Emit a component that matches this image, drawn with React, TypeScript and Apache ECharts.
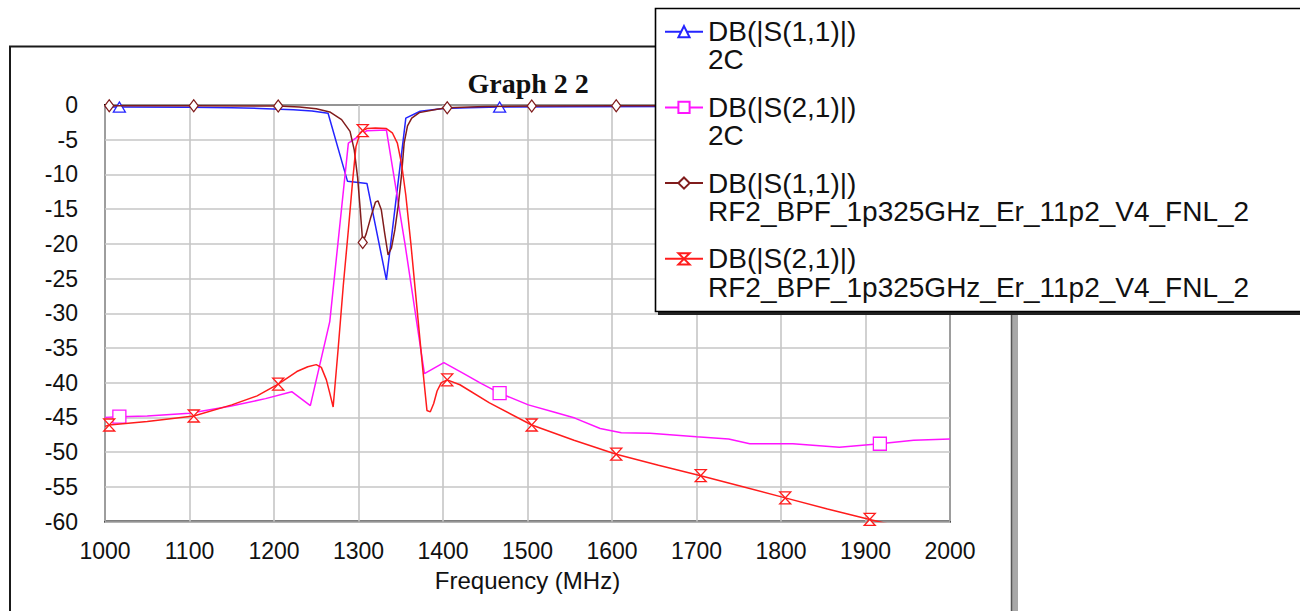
import React, { useEffect, useRef } from "react";
import * as echarts from "echarts";

// ---- data ----
const measurementNames = ["DB(|S(1,1)|)", "DB(|S(2,1)|)", "DB(|S(1,1)|)", "DB(|S(2,1)|)"];
const designNames = ["2C", "2C", "RF2_BPF_1p325GHz_Er_11p2_V4_FNL_2", "RF2_BPF_1p325GHz_Er_11p2_V4_FNL_2"];

const xTicksMin = 1000;
const xTicksMax = 2000;
const yTicksMin = -60;
const yTicksMax = 0;

// S11 of "2C" (blue)
const s11_2c: [number, number][] = [
  [1000, -0.3], [1017, -0.3], [1100, -0.32], [1150, -0.38], [1183, -0.5], [1223, -0.7],
  [1245, -0.85], [1264, -1.2], [1287, -11.0], [1310, -11.3], [1333, -25.2], [1356, -1.9],
  [1373, -0.9], [1400, -0.5], [1430, -0.38], [1467, -0.3], [1550, -0.25], [1700, -0.22],
  [1917, -0.2], [2000, -0.2],
];
const s11_2c_markers = [1017, 1467, 1917];

// S21 of "2C" (magenta)
const s21_2c: [number, number][] = [
  [1000, -45.0], [1017, -44.9], [1050, -44.8], [1100, -44.4], [1148, -43.4], [1190, -42.3],
  [1221, -41.3], [1243, -43.3], [1266, -31.2], [1288, -5.5], [1310, -3.7], [1333, -3.6],
  [1355, -20.0], [1378, -38.7], [1401, -37.1], [1423, -38.6], [1445, -40.1], [1467, -41.5],
  [1501, -43.2], [1530, -44.2], [1556, -45.1], [1586, -46.6], [1611, -47.2], [1645, -47.3],
  [1700, -47.8], [1738, -48.1], [1763, -48.8], [1814, -48.8], [1869, -49.3], [1917, -48.8],
  [1957, -48.3], [2000, -48.1],
];
const s21_2c_markers = [1017, 1467, 1917];

// S11 of RF2_BPF (brown)
const s11_rf2: [number, number][] = [
  [1000, -0.1], [1005, -0.1], [1105, -0.1], [1205, -0.15], [1230, -0.3], [1250, -0.55],
  [1266, -1.0], [1280, -2.1], [1290, -3.8], [1295, -6.5], [1299, -10.5], [1302, -15.0],
  [1305, -19.8], [1309, -18.6], [1314, -16.4], [1320, -14.0], [1323, -13.8], [1327, -15.1],
  [1331, -18.5], [1335, -21.6], [1339, -20.6], [1343, -18.0], [1347, -14.5], [1351, -10.0],
  [1354, -5.5], [1358, -3.0], [1363, -1.9], [1372, -1.1], [1393, -0.6], [1405, -0.4],
  [1450, -0.2], [1505, -0.15], [1605, -0.1], [1705, -0.1], [1805, -0.1], [1905, -0.1],
  [2000, -0.1],
];
const s11_rf2_markers = [1005, 1105, 1205, 1305, 1405, 1505, 1605, 1705, 1805, 1905];

// S21 of RF2_BPF (red)
const s21_rf2: [number, number][] = [
  [1000, -46.3], [1005, -46.1], [1050, -45.6], [1105, -44.8], [1150, -43.2], [1180, -41.9],
  [1205, -40.2], [1227, -38.4], [1240, -37.7], [1250, -37.4], [1256, -37.8], [1262, -39.6],
  [1266, -41.5], [1270, -43.5], [1276, -35.0], [1282, -26.0], [1288, -18.0], [1293, -11.0],
  [1297, -6.0], [1302, -4.0], [1305, -3.7], [1310, -3.4], [1320, -3.3], [1333, -3.4],
  [1340, -4.0], [1346, -5.5], [1351, -8.5], [1356, -13.0], [1362, -20.0], [1369, -29.0],
  [1376, -38.0], [1381, -44.0], [1385, -44.2], [1389, -43.0], [1393, -41.2], [1398, -40.0],
  [1405, -39.6], [1420, -40.3], [1455, -42.9], [1505, -46.1], [1555, -48.3], [1605, -50.3],
  [1655, -51.9], [1705, -53.4], [1755, -55.0], [1805, -56.6], [1855, -58.2], [1905, -59.7],
  [1955, -61.2], [2000, -62.6],
];
const s21_rf2_markers = [1005, 1105, 1205, 1305, 1405, 1505, 1605, 1705, 1805, 1905];

const seriesColors = ["#2424ff", "#ff14ff", "#801c1c", "#ff1c1c"];
const hourglass = "path://M0,0L10,0L0,10L10,10Z";

function withMarkers(points: [number, number][], markers: number[]) {
  return points.map(([f, d]) =>
    markers.indexOf(f) >= 0 ? { value: [f, d] } : { value: [f, d], symbol: "none" }
  );
}

export default function App() {
  const ref = useRef<HTMLDivElement>(null);

  useEffect(() => {
    if (!ref.current) return;
    const chart = echarts.init(ref.current, undefined, { renderer: "svg" });
    const names = measurementNames.map((m, i) => m + "\n" + designNames[i]);
    const lineH = 28.3;

    const mk = (
      i: number,
      pts: [number, number][],
      markers: number[],
      symbol: string,
      size: number | number[]
    ) => ({
      name: names[i],
      type: "line",
      data: withMarkers(pts, markers),
      symbol,
      symbolSize: size,
      showSymbol: true,
      showAllSymbol: true,
      lineStyle: { color: seriesColors[i], width: 1.5 },
      itemStyle: { color: "#ffffff", borderColor: seriesColors[i], borderWidth: 1.3 },
      emphasis: { disabled: true },
      z: 2 + i * 0.01,
    });

    chart.setOption({
      animation: false,
      backgroundColor: "#ffffff",
      title: {
        text: "Graph 2 2",
        left: 467.5,
        top: 69.5,
        padding: 0,
        textStyle: {
          fontFamily: "Liberation Serif",
          fontWeight: "bold",
          fontSize: 28,
          color: "#111111",
        },
      },
      grid: {
        left: 105,
        right: 350,
        top: 105,
        bottom: 89.5,
        show: true,
        borderColor: "#000000",
        borderWidth: 2,
        backgroundColor: "#ffffff",
      },
      xAxis: {
        type: "value",
        min: xTicksMin,
        max: xTicksMax,
        interval: 100,
        name: "Frequency (MHz)",
        nameLocation: "middle",
        nameGap: 47,
        nameTextStyle: { fontFamily: "Liberation Sans", fontSize: 24, color: "#111111" },
        axisLine: { show: false },
        axisTick: { show: false },
        axisLabel: {
          fontFamily: "Liberation Sans",
          fontSize: 23,
          color: "#111111",
          margin: 18,
          formatter: (v: number) => String(v),
        },
        splitLine: { show: true, lineStyle: { color: "#c6c6c6", width: 1.6 } },
      },
      yAxis: {
        type: "value",
        min: yTicksMin,
        max: yTicksMax,
        interval: 5,
        axisLine: { show: false },
        axisTick: { show: false },
        axisLabel: {
          fontFamily: "Liberation Sans",
          fontSize: 23,
          color: "#111111",
          margin: 27,
          formatter: (v: number) => String(v),
        },
        splitLine: { show: true, lineStyle: { color: "#c6c6c6", width: 1.6 } },
      },
      legend: {
        orient: "vertical",
        left: 664,
        top: 31.7 - 1.5 * lineH,
        padding: 0,
        itemGap: 75.7 - 3 * lineH,
        itemWidth: 38,
        itemHeight: 14,
        selectedMode: false,
        data: names,
        formatter: (name: string) => "\n" + name,
        textStyle: {
          fontFamily: "Liberation Sans",
          fontSize: 28,
          color: "#111111",
          lineHeight: lineH,
        },
      },
      graphic: [
        {
          type: "polyline",
          shape: { points: [[10, 640], [10, 46.5], [1012, 46.5]] },
          style: { stroke: "#1a1a1a", lineWidth: 2, fill: null },
          z: 0,
        },
        {
          type: "rect",
          shape: { x: 1011, y: 46, width: 7, height: 600 },
          style: { fill: "#a8a8a8", stroke: null },
          z: 0,
        },
        {
          type: "line",
          shape: { x1: 1011.5, y1: 46, x2: 1011.5, y2: 640 },
          style: { stroke: "#555555", lineWidth: 1.5 },
          z: 0,
        },
        {
          type: "rect",
          shape: { x: 658, y: 11, width: 700, height: 304 },
          style: { fill: "#222222", stroke: null },
          z: 3,
        },
        {
          type: "rect",
          shape: { x: 655.5, y: 8.5, width: 700, height: 303 },
          style: { fill: "#ffffff", stroke: "#000000", lineWidth: 1.6 },
          z: 3,
        },
      ],
      series: [
        mk(0, s11_2c, s11_2c_markers, "triangle", [12, 10]),
        mk(1, s21_2c, s21_2c_markers, "rect", 13),
        mk(2, s11_rf2, s11_rf2_markers, "diamond", [9, 12]),
        mk(3, s21_rf2, s21_rf2_markers, hourglass, [11, 12]),
      ],
    });

    return () => chart.dispose();
  }, []);

  return (
    <div
      ref={ref}
      style={{ position: "absolute", left: 0, top: 0, width: 1300, height: 611 }}
    />
  );
}
